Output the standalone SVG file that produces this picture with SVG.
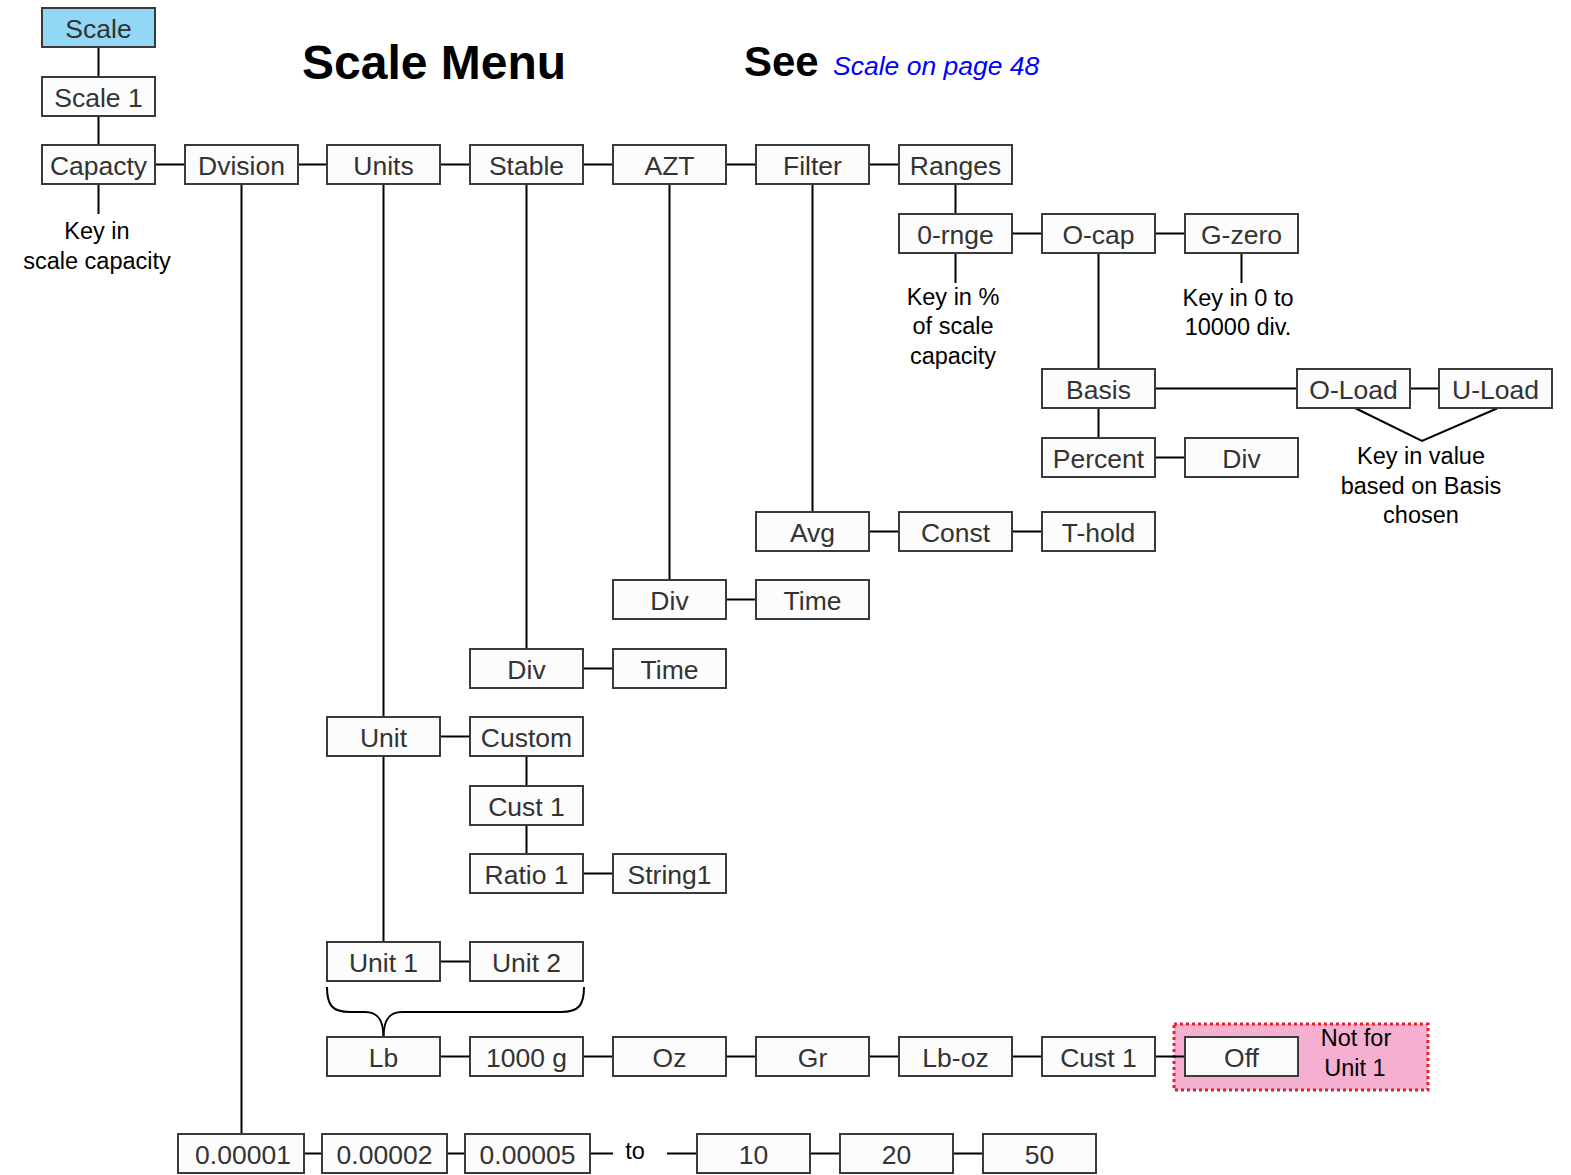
<svg xmlns="http://www.w3.org/2000/svg" width="1571" height="1175" viewBox="0 0 1571 1175">
  <style>
    .box rect { fill: #fcfcfc; stroke: #3a3a3a; stroke-width: 2; }
    .box text { font-family: "Liberation Sans", Arial, sans-serif; font-size: 26.5px; fill: #333333; text-anchor: middle; }
    .note { font-family: "Liberation Sans", Arial, sans-serif; font-size: 23.5px; fill: #000000; text-anchor: middle; }
    .wire { stroke: #000000; stroke-width: 2; fill: none; }
    .title { font-family: "Liberation Sans", Arial, sans-serif; font-weight: bold; fill: #000000; }
  </style>

  <!-- Headings -->
  <text class="title" x="302" y="79" font-size="48">Scale Menu</text>
  <text class="title" x="744" y="76" font-size="42">See</text>
  <text x="833" y="75" font-family="'Liberation Sans', Arial, sans-serif" font-size="26.5" font-style="italic" fill="#0000ff">Scale on page 48</text>

  <!-- Restriction zone behind the Off option -->
  <rect x="1174" y="1024" width="254" height="66" fill="#f5afd0" stroke="#e8202a" stroke-width="3" stroke-dasharray="3 3"/>
  <text class="note" x="1356" y="1046">Not for</text>
  <text class="note" x="1355" y="1076">Unit 1</text>

  <!-- Connectors -->
  <g id="connectors" class="wire">
    <!-- vertical links -->
    <path d="M98.5,47 V77 M98.5,116 V145 M98.5,184 V214"/>
    <path d="M241.5,184 V1134"/>
    <path d="M383.5,184 V717 M383.5,756 V942"/>
    <path d="M526.5,184 V649"/>
    <path d="M669.5,184 V580"/>
    <path d="M812.5,184 V512"/>
    <path d="M955.5,184 V214 M955.5,253 V283"/>
    <path d="M1098.5,253 V369 M1098.5,408 V438"/>
    <path d="M1241.5,253 V283"/>
    <path d="M526.5,756 V786 M526.5,825 V854"/>
    <!-- horizontal links -->
    <path d="M155,164.5 H185 M298,164.5 H327 M440,164.5 H470 M583,164.5 H613 M726,164.5 H756 M869,164.5 H899"/>
    <path d="M1012,233.5 H1042 M1155,233.5 H1185"/>
    <path d="M1155,388.5 H1297 M1410,388.5 H1439"/>
    <path d="M1155,457.5 H1185"/>
    <path d="M869,531.5 H899 M1012,531.5 H1042"/>
    <path d="M726,599.5 H756"/>
    <path d="M583,668.5 H613"/>
    <path d="M440,736.5 H470"/>
    <path d="M583,873.5 H613"/>
    <path d="M440,961.5 H470"/>
    <path d="M440,1056.5 H470 M583,1056.5 H613 M726,1056.5 H756 M869,1056.5 H899 M1012,1056.5 H1042 M1155,1056.5 H1185"/>
    <path d="M304,1153.5 H322 M447,1153.5 H465 M590,1153.5 H613 M667,1153.5 H697 M810,1153.5 H840 M953,1153.5 H983"/>
    <!-- O-Load / U-Load to shared note -->
    <path d="M1355,408 L1422,441 L1498,408"/>
    <!-- brace joining Unit 1 and Unit 2 to the unit list -->
    <path d="M327,987 C327,1005 332,1012 350,1012 L365,1012 C378,1012 383.5,1020 383.5,1037"/>
    <path d="M584,987 C584,1005 579,1012 561,1012 L402,1012 C389,1012 383.5,1020 383.5,1037"/>
  </g>

  <!-- Notes -->
  <text class="note" x="97" y="239">Key in</text>
  <text class="note" x="97" y="269">scale capacity</text>
  <text class="note" x="953" y="305">Key in %</text>
  <text class="note" x="953" y="334">of scale</text>
  <text class="note" x="953" y="364">capacity</text>
  <text class="note" x="1238" y="306">Key in 0 to</text>
  <text class="note" x="1238" y="335">10000 div.</text>
  <text class="note" x="1421" y="464">Key in value</text>
  <text class="note" x="1421" y="494">based on Basis</text>
  <text class="note" x="1421" y="523">chosen</text>
  <text class="note" x="635" y="1159">to</text>

  <!-- Menu nodes -->
  <g id="n-scale" class="box"><rect x="42" y="8" width="113" height="39" style="fill:#92d7f5"/><text x="98.5" y="38">Scale</text></g>
  <g id="n-scale1" class="box"><rect x="42" y="77" width="113" height="39"/><text x="98.5" y="107">Scale 1</text></g>

  <g id="n-capacty" class="box"><rect x="42" y="145" width="113" height="39"/><text x="98.5" y="175">Capacty</text></g>
  <g id="n-dvision" class="box"><rect x="185" y="145" width="113" height="39"/><text x="241.5" y="175">Dvision</text></g>
  <g id="n-units" class="box"><rect x="327" y="145" width="113" height="39"/><text x="383.5" y="175">Units</text></g>
  <g id="n-stable" class="box"><rect x="470" y="145" width="113" height="39"/><text x="526.5" y="175">Stable</text></g>
  <g id="n-azt" class="box"><rect x="613" y="145" width="113" height="39"/><text x="669.5" y="175">AZT</text></g>
  <g id="n-filter" class="box"><rect x="756" y="145" width="113" height="39"/><text x="812.5" y="175">Filter</text></g>
  <g id="n-ranges" class="box"><rect x="899" y="145" width="113" height="39"/><text x="955.5" y="175">Ranges</text></g>

  <g id="n-0rnge" class="box"><rect x="899" y="214" width="113" height="39"/><text x="955.5" y="244">0-rnge</text></g>
  <g id="n-ocap" class="box"><rect x="1042" y="214" width="113" height="39"/><text x="1098.5" y="244">O-cap</text></g>
  <g id="n-gzero" class="box"><rect x="1185" y="214" width="113" height="39"/><text x="1241.5" y="244">G-zero</text></g>

  <g id="n-basis" class="box"><rect x="1042" y="369" width="113" height="39"/><text x="1098.5" y="399">Basis</text></g>
  <g id="n-oload" class="box"><rect x="1297" y="369" width="113" height="39"/><text x="1353.5" y="399">O-Load</text></g>
  <g id="n-uload" class="box"><rect x="1439" y="369" width="113" height="39"/><text x="1495.5" y="399">U-Load</text></g>

  <g id="n-percent" class="box"><rect x="1042" y="438" width="113" height="39"/><text x="1098.5" y="468">Percent</text></g>
  <g id="n-div-pct" class="box"><rect x="1185" y="438" width="113" height="39"/><text x="1241.5" y="468">Div</text></g>

  <g id="n-avg" class="box"><rect x="756" y="512" width="113" height="39"/><text x="812.5" y="542">Avg</text></g>
  <g id="n-const" class="box"><rect x="899" y="512" width="113" height="39"/><text x="955.5" y="542">Const</text></g>
  <g id="n-thold" class="box"><rect x="1042" y="512" width="113" height="39"/><text x="1098.5" y="542">T-hold</text></g>

  <g id="n-div-azt" class="box"><rect x="613" y="580" width="113" height="39"/><text x="669.5" y="610">Div</text></g>
  <g id="n-time-azt" class="box"><rect x="756" y="580" width="113" height="39"/><text x="812.5" y="610">Time</text></g>

  <g id="n-div-stable" class="box"><rect x="470" y="649" width="113" height="39"/><text x="526.5" y="679">Div</text></g>
  <g id="n-time-stable" class="box"><rect x="613" y="649" width="113" height="39"/><text x="669.5" y="679">Time</text></g>

  <g id="n-unit" class="box"><rect x="327" y="717" width="113" height="39"/><text x="383.5" y="747">Unit</text></g>
  <g id="n-custom" class="box"><rect x="470" y="717" width="113" height="39"/><text x="526.5" y="747">Custom</text></g>
  <g id="n-cust1" class="box"><rect x="470" y="786" width="113" height="39"/><text x="526.5" y="816">Cust 1</text></g>
  <g id="n-ratio1" class="box"><rect x="470" y="854" width="113" height="39"/><text x="526.5" y="884">Ratio 1</text></g>
  <g id="n-string1" class="box"><rect x="613" y="854" width="113" height="39"/><text x="669.5" y="884">String1</text></g>

  <g id="n-unit1" class="box"><rect x="327" y="942" width="113" height="39"/><text x="383.5" y="972">Unit 1</text></g>
  <g id="n-unit2" class="box"><rect x="470" y="942" width="113" height="39"/><text x="526.5" y="972">Unit 2</text></g>

  <g id="n-lb" class="box"><rect x="327" y="1037" width="113" height="39"/><text x="383.5" y="1067">Lb</text></g>
  <g id="n-1000g" class="box"><rect x="470" y="1037" width="113" height="39"/><text x="526.5" y="1067">1000 g</text></g>
  <g id="n-oz" class="box"><rect x="613" y="1037" width="113" height="39"/><text x="669.5" y="1067">Oz</text></g>
  <g id="n-gr" class="box"><rect x="756" y="1037" width="113" height="39"/><text x="812.5" y="1067">Gr</text></g>
  <g id="n-lboz" class="box"><rect x="899" y="1037" width="113" height="39"/><text x="955.5" y="1067">Lb-oz</text></g>
  <g id="n-cust1-list" class="box"><rect x="1042" y="1037" width="113" height="39"/><text x="1098.5" y="1067">Cust 1</text></g>
  <g id="n-off" class="box"><rect x="1185" y="1037" width="113" height="39"/><text x="1241.5" y="1067">Off</text></g>

  <g id="n-d00001" class="box"><rect x="178" y="1134" width="126" height="39"/><text x="243" y="1164">0.00001</text></g>
  <g id="n-d00002" class="box"><rect x="322" y="1134" width="125" height="39"/><text x="384.5" y="1164">0.00002</text></g>
  <g id="n-d00005" class="box"><rect x="465" y="1134" width="125" height="39"/><text x="527.5" y="1164">0.00005</text></g>
  <g id="n-d10" class="box"><rect x="697" y="1134" width="113" height="39"/><text x="753.5" y="1164">10</text></g>
  <g id="n-d20" class="box"><rect x="840" y="1134" width="113" height="39"/><text x="896.5" y="1164">20</text></g>
  <g id="n-d50" class="box"><rect x="983" y="1134" width="113" height="39"/><text x="1039.5" y="1164">50</text></g>
</svg>
